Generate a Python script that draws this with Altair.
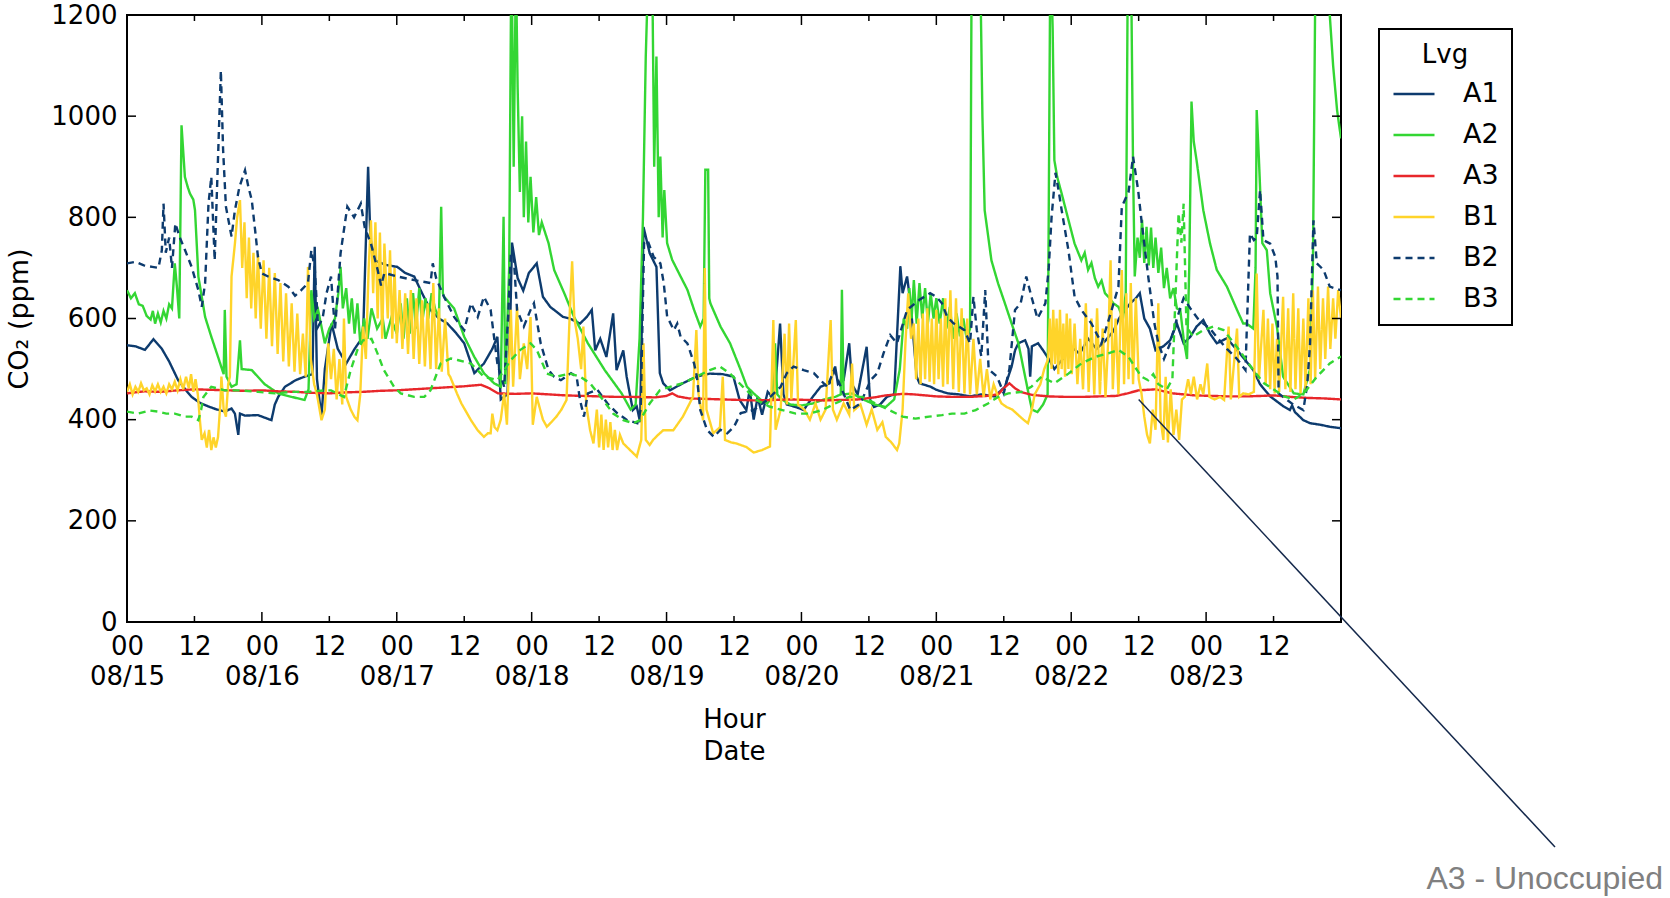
import altair as alt
import pandas as pd

START = pd.Timestamp("2015-08-15 00:00:00")

SERIES = ["A1", "A2", "A3", "B1", "B2", "B3"]
COLORS = ["#0d3b6e", "#33d633", "#e8272b", "#ffd42a", "#0d3b6e", "#33d633"]
DASHES = [[1, 0], [1, 0], [1, 0], [1, 0], [7, 5], [7, 5]]
Y_TICKS = [0, 200, 400, 600, 800, 1000, 1200]
X_TICK_HOURS = list(range(0, 216, 12))

# (hours since 08/15 00:00, CO2 ppm)
A1 = [(0, 547), (1.5, 545), (3.2, 538), (4.7, 559), (6.2, 540), (7.5, 515), (9.1, 478), (10.5, 458),
      (11.5, 445), (13, 433), (14.5, 426), (16, 420), (17.4, 416), (18.6, 422), (19.2, 412), (19.8, 370),
      (20.1, 412), (21, 408), (23.3, 409), (24.5, 404), (25.7, 399), (26.3, 430), (26.9, 445), (28.1, 465),
      (30, 478), (31.6, 485), (33, 490), (33.4, 742), (33.8, 480), (34.6, 406), (35.2, 500), (36.4, 590),
      (37.5, 540), (39, 511), (40.5, 540), (42, 564), (42.9, 900), (43.3, 760), (44, 715), (46, 706),
      (48.1, 702), (49.5, 690), (51.1, 683), (52.5, 650), (54, 617), (55.5, 600), (57, 590), (58.5, 572),
      (60, 551), (61.8, 492), (62.5, 500), (63.5, 511), (65, 540), (65.9, 564), (66.5, 440), (67.7, 450),
      (68.2, 600), (68.5, 750), (69.5, 680), (70.5, 655), (71.5, 690), (72.9, 709), (74, 643), (75.3, 623),
      (77.6, 603), (78.8, 600), (80.6, 590), (81.8, 603), (82.7, 617), (83.3, 537), (84.2, 560), (85.3, 524),
      (86.5, 610), (87.1, 498), (88.3, 537), (88.9, 485), (90, 419), (90.7, 426), (91.3, 395), (91.9, 781),
      (93, 729), (94.2, 702), (94.8, 492), (95.4, 472), (96.6, 458), (98.9, 472), (101.3, 485), (103.7, 491),
      (106, 490), (107.9, 485), (109, 439), (110.2, 419), (110.8, 460), (111.5, 400), (112.2, 445), (113, 410),
      (114, 455), (115.2, 440), (116.2, 590), (116.8, 450), (117.4, 430), (119, 425), (120.4, 419), (122, 445),
      (123.4, 465), (125, 472), (126, 505), (126.5, 470), (127.5, 478), (128.5, 551), (129, 470), (130, 450),
      (131.6, 544), (132.2, 440), (132.9, 425), (134, 430), (135.2, 445), (136.5, 450), (137.6, 703), (138, 650),
      (138.8, 683), (139.5, 620), (140, 551), (140.5, 485), (141, 472), (143, 465), (144, 459), (146, 452),
      (148, 450), (150, 446), (152, 450), (154.4, 446), (156.2, 465), (157.4, 505), (158, 537), (158.6, 551),
      (159.8, 557), (160.4, 540), (160.7, 485), (161, 545), (162.1, 551), (163, 537), (164, 520), (165, 500),
      (166.5, 520), (168, 545), (169.5, 530), (171, 560), (172.5, 540), (174, 555), (175.5, 575), (176.5, 600),
      (177.5, 615), (178.5, 630), (179.5, 640), (180.2, 650), (181, 600), (182, 580), (183, 537), (184.4, 545),
      (185.6, 557), (186.8, 590), (188, 551), (189.2, 564), (190.3, 584), (191.5, 597), (192.7, 570),
      (193.9, 551), (195.7, 561), (198, 531), (200.4, 498), (201.6, 470), (203.4, 446), (205.8, 426),
      (206.9, 419), (207.3, 428), (207.8, 415), (209.3, 399), (210.5, 393), (212.3, 390), (214, 386), (216, 383)]

A2 = [(0, 656), (0.7, 640), (1.4, 650), (2.1, 628), (2.8, 625), (3.5, 605), (4.2, 598), (4.6, 615), (5, 590),
      (5.5, 610), (6, 592), (6.5, 615), (7, 600), (7.5, 628), (8, 620), (8.5, 709), (8.9, 660), (9.3, 600),
      (9.7, 982), (10.3, 880), (10.8, 860), (11.2, 847), (11.8, 835), (12.1, 814), (12.7, 683), (13.9, 603),
      (15, 564), (16.2, 524), (17.2, 490), (17.4, 617), (17.7, 485), (18.6, 465), (19.5, 470), (20.1, 557),
      (20.4, 500), (22.2, 498), (24.5, 470), (26.9, 452), (29.3, 445), (31.6, 439), (32.3, 460), (32.8, 656),
      (33.3, 600), (34, 617), (35.2, 551), (36, 580), (37, 600), (37.6, 650), (38, 702), (38.4, 620), (39, 660),
      (39.5, 590), (40, 640), (40.5, 570), (41, 630), (41.5, 551), (42.2, 600), (42.8, 560), (43.5, 620),
      (44.5, 580), (45.5, 600), (46, 560), (47, 600), (48, 570), (48.7, 630), (49.2, 560), (49.8, 640),
      (50.3, 570), (50.9, 650), (51.4, 580), (52, 660), (52.5, 590), (53.1, 640), (53.6, 600), (54.2, 650),
      (54.8, 620), (55.5, 600), (55.9, 821), (56.2, 650), (56.4, 643), (58.2, 620), (60, 564), (61.8, 524),
      (63.5, 492), (65.3, 472), (66.5, 465), (67, 801), (67.3, 470), (68, 700), (68.4, 1350), (68.8, 900),
      (69.2, 1300), (69.5, 1058), (69.9, 850), (70.3, 1000), (70.6, 800), (71, 950), (71.4, 790), (71.8, 880),
      (72.3, 770), (72.8, 840), (73.3, 765), (73.8, 790), (75, 749), (76, 696), (77.8, 650), (79.5, 604),
      (82, 551), (85, 498), (88, 452), (89.6, 420), (90.5, 430), (91.2, 560), (91.8, 800), (92.3, 1118),
      (92.9, 1350), (93.4, 1350), (93.8, 900), (94.2, 1118), (94.6, 800), (94.9, 920), (95.3, 760), (95.6, 854),
      (96.1, 749), (97, 716), (98.5, 683), (99.7, 657), (100.9, 617), (102, 584), (102.6, 600), (102.9, 894),
      (103.4, 894), (103.6, 640), (103.8, 630), (105.6, 584), (107.3, 551), (109.2, 498), (110.3, 465),
      (111.5, 452), (112.7, 440), (113.9, 432), (114.8, 445), (115.3, 551), (115.7, 450), (116.5, 440),
      (118, 430), (120, 428), (122, 432), (124, 440), (126, 445), (127, 450), (127.2, 657), (127.5, 450),
      (129, 452), (131, 440), (133, 430), (135, 425), (136.5, 440), (137.5, 500), (138.2, 600), (138.8, 580),
      (139.2, 660), (139.6, 600), (140, 676), (140.5, 590), (141, 670), (141.5, 600), (142, 660), (142.5, 590),
      (143, 650), (143.5, 600), (144, 640), (144.6, 590), (145.2, 640), (145.8, 580), (146.4, 623), (147, 560),
      (147.6, 610), (148.2, 565), (148.8, 600), (149.4, 560), (150, 580), (150.3, 1350), (150.8, 1300),
      (151.2, 1350), (151.8, 1300), (152.2, 1000), (152.6, 814), (153.8, 715), (155, 669), (156.2, 630),
      (157.4, 590), (158.6, 551), (159.8, 485), (160.4, 452), (161, 420), (162, 415), (163, 430), (163.8, 450),
      (164.3, 1350), (164.7, 1172), (165, 913), (165.5, 880), (166.3, 847), (167.5, 795), (168.6, 748),
      (169.8, 715), (170.4, 730), (171, 696), (171.6, 710), (172.2, 680), (172.8, 663), (173.4, 675), (174, 650),
      (174.6, 643), (175.5, 630), (176.4, 623), (177.2, 600), (177.7, 650), (178.1, 1350), (178.6, 1350),
      (179, 900), (179.3, 683), (179.8, 760), (180.2, 720), (180.6, 795), (181, 710), (181.4, 781), (181.8, 705),
      (182.2, 780), (182.6, 700), (183, 760), (183.5, 690), (184, 740), (184.5, 660), (185, 700), (185.6, 640),
      (186.2, 660), (186.8, 620), (187.4, 617), (188, 560), (188.6, 520), (189, 700), (189.4, 1029), (189.8, 950),
      (190.3, 913), (191.5, 814), (192.7, 748), (193.9, 696), (195.7, 663), (197.5, 617), (198.6, 590),
      (199.2, 590), (200.4, 580), (200.8, 700), (201, 1012), (201.4, 914), (202, 749), (202.8, 735), (203.4, 650),
      (204.6, 584), (205.7, 485), (207.6, 452), (209.3, 450), (210.5, 500), (211, 700), (211.5, 1350),
      (212, 1300), (212.5, 1350), (213, 1250), (213.5, 1350), (214, 1200), (214.6, 1100), (215.3, 1012),
      (215.7, 980), (216, 956)]

A3 = [(0, 452), (3, 456), (6, 455), (9, 458), (12, 460), (15, 459), (18, 458), (21, 457), (24, 458), (27, 456),
      (30, 455), (33, 453), (36, 452), (39, 454), (42, 455), (45, 457), (48, 458), (51, 460), (54, 462),
      (57, 464), (60, 466), (63, 469), (64.5, 462), (66, 452), (69, 451), (72, 452), (75, 450), (78, 448),
      (81, 447), (84, 446), (87, 445), (90, 445), (94, 444), (96, 447), (97, 452), (98, 446), (100, 442),
      (103, 441), (106, 440), (109, 439), (112, 438), (115, 439), (118, 440), (121, 439), (124, 438),
      (127, 439), (130, 440), (133, 444), (135, 448), (138, 451), (140, 450), (142, 448), (144, 446),
      (147, 445), (150, 445), (153, 447), (155, 450), (156, 462), (157, 472), (158, 462), (159, 455),
      (161, 449), (164, 446), (167, 445), (170, 445), (173, 446), (176, 447), (178, 452), (180, 458),
      (183, 460), (184.5, 456), (186, 452), (188, 450), (190, 448), (193, 447), (196, 446), (199, 446),
      (202, 447), (204, 448), (207, 445), (210, 443), (213, 442), (216, 440)]

B1 = [(0, 455), (0.5, 470), (1, 450), (1.5, 465), (2, 455), (2.5, 472), (3, 458), (3.5, 462), (4, 450),
      (4.5, 468), (5, 456), (5.5, 470), (6, 455), (6.5, 465), (7, 452), (7.5, 470), (8, 460), (8.5, 475),
      (9, 458), (9.5, 480), (10, 460), (10.5, 485), (11, 462), (11.4, 490), (11.8, 455), (12.2, 480),
      (12.6, 450), (13, 395), (13.3, 360), (13.8, 373), (14.2, 345), (14.6, 380), (15, 340), (15.4, 365),
      (15.8, 345), (16.2, 366), (16.6, 430), (16.8, 485), (17.2, 420), (17.6, 406), (18, 470), (18.3, 485),
      (18.6, 683), (19.2, 748), (19.6, 800), (20.1, 834), (20.5, 700), (20.9, 790), (21.3, 640), (21.7, 760),
      (22.1, 620), (22.5, 730), (22.9, 600), (23.3, 727), (23.8, 580), (24.3, 715), (24.8, 560), (25.3, 700),
      (25.8, 545), (26.3, 690), (26.8, 530), (27.3, 670), (27.8, 515), (28.3, 650), (28.8, 505), (29.3, 630),
      (29.8, 495), (30.3, 610), (30.8, 490), (31.3, 570), (31.8, 485), (32.2, 702), (32.7, 520), (33.3, 470),
      (33.8, 450), (34.6, 399), (35.2, 420), (35.8, 551), (36.3, 480), (36.8, 540), (37.3, 440), (37.8, 520),
      (38.3, 430), (38.6, 600), (39, 445), (39.8, 420), (40.5, 405), (41, 399), (41.5, 450), (42, 584),
      (42.5, 520), (43, 700), (43.4, 794), (43.8, 650), (44.2, 790), (44.6, 600), (45, 770), (45.4, 560),
      (45.8, 748), (46.4, 600), (46.8, 735), (47.2, 560), (47.6, 700), (48, 551), (48.5, 656), (49, 540),
      (49.5, 650), (50, 530), (50.5, 656), (51, 520), (51.5, 640), (52, 510), (52.5, 636), (53, 505),
      (53.5, 630), (54, 500), (54.5, 670), (55, 500), (55.5, 620), (56, 495), (56.6, 600), (57.2, 490),
      (57.5, 485), (58.7, 452), (59.5, 432), (61.2, 399), (62.4, 379), (63.5, 366), (64.2, 373), (64.7, 373),
      (65, 412), (65.4, 385), (65.9, 379), (66.5, 400), (67.1, 452), (67.6, 390), (68.3, 617), (68.7, 465),
      (69.4, 623), (69.9, 480), (70.6, 551), (71.2, 500), (71.8, 603), (72.2, 390), (72.9, 445), (74, 400),
      (74.7, 386), (75.5, 395), (76.4, 406), (77.3, 420), (78.2, 439), (78.8, 617), (79.2, 713), (79.6, 600),
      (80.2, 560), (80.8, 500), (81.2, 584), (81.7, 430), (82.4, 379), (83, 353), (83.6, 420), (84, 345),
      (84.4, 410), (84.8, 340), (85.2, 400), (85.6, 345), (86, 395), (86.4, 340), (86.8, 380), (87.2, 340),
      (87.7, 370), (88.3, 353), (89.5, 340), (90.7, 327), (91.5, 360), (91.9, 551), (92.3, 360), (93, 350),
      (93.6, 360), (94.5, 370), (95.4, 379), (97.2, 379), (98.9, 406), (100.7, 445), (101.3, 577),
      (101.7, 450), (102.5, 399), (102.8, 700), (103.1, 420), (104.3, 373), (105.5, 385), (106, 485),
      (106.4, 360), (107.5, 355), (108.4, 353), (110.2, 346), (111.5, 335), (113, 340), (114.4, 347),
      (115, 597), (115.4, 380), (116.3, 420), (117, 570), (117.4, 430), (117.8, 590), (118.2, 440), (119, 597),
      (119.4, 430), (120.5, 420), (121.5, 400), (122.5, 432), (123.4, 400), (124.3, 420), (125.2, 597),
      (125.6, 420), (126.3, 400), (127.5, 432), (128.5, 410), (129, 511), (129.4, 419), (130.5, 430),
      (131.6, 390), (132.5, 420), (133.5, 380), (134.4, 395), (135, 366), (136, 355), (137, 340), (137.4, 353),
      (138, 420), (138.5, 551), (139, 650), (139.5, 560), (140, 590), (140.4, 480), (140.8, 600), (141.2, 470),
      (141.6, 610), (142, 480), (142.4, 620), (142.8, 475), (143.2, 600), (143.6, 470), (144, 617), (144.4, 480),
      (144.8, 600), (145.2, 465), (145.6, 640), (146, 470), (146.5, 656), (147, 460), (147.5, 640), (148, 455),
      (148.5, 620), (149, 452), (149.5, 600), (150, 450), (150.6, 560), (151.2, 450), (151.8, 520),
      (152.4, 445), (153, 500), (153.6, 440), (154.2, 470), (155, 445), (155.6, 432), (156.5, 425),
      (157.5, 420), (158.5, 410), (159.5, 400), (160.3, 393), (161, 420), (161.5, 450), (162.5, 470),
      (163.2, 500), (163.9, 520), (164.2, 600), (164.5, 500), (164.8, 617), (165.1, 510), (165.4, 600),
      (165.7, 490), (166, 617), (166.3, 500), (166.6, 590), (166.9, 485), (167.2, 610), (167.5, 500),
      (167.8, 600), (168.1, 490), (168.6, 590), (169.1, 470), (169.6, 560), (170.1, 460), (170.6, 630),
      (171.1, 455), (171.6, 600), (172.1, 450), (172.6, 620), (173.1, 450), (173.6, 580), (174.1, 445),
      (174.6, 560), (175, 715), (175.4, 460), (175.9, 600), (176.4, 450), (177, 696), (177.4, 470),
      (177.8, 650), (178.2, 480), (178.6, 670), (179, 470), (179.5, 640), (180, 480), (180.5, 452), (181, 406),
      (181.5, 370), (182, 353), (182.5, 420), (183, 380), (183.5, 630), (183.9, 400), (184.4, 360),
      (184.8, 485), (185.2, 355), (185.7, 460), (186.2, 370), (186.7, 420), (187.2, 360), (187.7, 440),
      (188.2, 445), (188.8, 480), (189.3, 450), (189.8, 485), (190.4, 440), (191, 470), (191.5, 450),
      (192.2, 511), (192.6, 445), (193.5, 440), (194.5, 445), (195.2, 439), (196, 584), (196.4, 440),
      (197.5, 580), (197.9, 445), (198.6, 452), (199.6, 450), (200.5, 455), (201, 689), (201.4, 480),
      (202.2, 617), (202.6, 470), (203, 600), (203.4, 460), (203.8, 590), (204.2, 452), (204.6, 560),
      (205, 455), (205.7, 643), (206.1, 460), (206.6, 620), (207, 455), (207.5, 650), (207.9, 460),
      (208.4, 620), (208.8, 452), (209.3, 600), (209.7, 460), (210.2, 640), (210.6, 470), (211, 656),
      (211.4, 480), (211.9, 663), (212.3, 500), (212.8, 640), (213.2, 520), (213.7, 663), (214.1, 540),
      (214.6, 640), (215, 560), (215.5, 656), (216, 600)]

B2 = [(0, 709), (1.5, 712), (3, 705), (4.5, 702), (5.6, 700), (6.2, 735), (6.5, 827), (6.9, 730), (7.5, 760),
      (8, 700), (8.6, 788), (9.4, 760), (10.3, 736), (11.5, 702), (12.7, 656), (13.3, 623), (13.9, 670),
      (14.5, 827), (15, 880), (15.6, 715), (16.2, 919), (16.7, 1090), (17.1, 933), (17.6, 821), (18.6, 762),
      (19.2, 814), (20, 860), (21, 893), (21.6, 860), (22.2, 834), (22.8, 774), (23.3, 722), (24, 689),
      (25.1, 683), (26.9, 676), (28.7, 663), (29.9, 645), (31, 656), (32.2, 670), (32.8, 735), (33.4, 700),
      (34, 584), (34.8, 600), (35.5, 650), (36.3, 683), (37, 577), (38, 729), (39.2, 821), (40.4, 800),
      (41.6, 827), (42.3, 780), (43.4, 748), (44.6, 696), (45.2, 665), (45.8, 690), (48.1, 683), (51.1, 676),
      (54, 670), (54.4, 709), (55, 680), (56.4, 643), (58.2, 603), (60, 577), (61.2, 630), (62.4, 603),
      (63.5, 643), (64.7, 617), (65.9, 511), (67.1, 465), (67.8, 600), (68.3, 729), (68.8, 722), (69.4, 617),
      (70.6, 584), (71.8, 617), (72.4, 630), (73.6, 551), (75, 498), (76, 485), (77.2, 478), (79, 492),
      (80, 485), (80.6, 439), (81.3, 406), (82, 452), (83.7, 459), (85.5, 432), (87.2, 413), (89, 399),
      (90.8, 393), (91.4, 420), (92, 749), (92.6, 755), (93.7, 722), (94.9, 709), (95.5, 670), (96.1, 604),
      (97.3, 577), (97.9, 590), (98.5, 564), (99.7, 551), (100.9, 511), (101.4, 485), (102, 419), (103.2, 380),
      (104.4, 366), (105.6, 380), (106.8, 373), (108, 386), (109.2, 413), (111.5, 419), (113.9, 439),
      (116.3, 465), (117.4, 492), (118.6, 505), (120.4, 498), (122.2, 492), (123.4, 478), (124.6, 465),
      (125.8, 498), (127, 465), (128.7, 419), (130.5, 432), (132.3, 478), (133.5, 492), (134.6, 531),
      (135.8, 567), (137, 551), (138.8, 617), (141, 637), (142.9, 650), (144, 643), (145, 630), (145.9, 604),
      (147, 591), (149, 577), (150, 551), (150.6, 643), (151.2, 577), (152, 525), (152.7, 656), (153.3, 500),
      (154.8, 485), (156, 452), (157, 500), (158, 617), (159, 630), (160, 683), (161, 640), (162, 600),
      (163.4, 630), (164, 700), (164.5, 800), (165.2, 888), (165.8, 850), (166.3, 814), (167.5, 735),
      (168.6, 643), (169.8, 617), (171.6, 590), (173.4, 551), (175.2, 617), (176.4, 663), (177, 821),
      (178.2, 850), (179, 920), (179.9, 854), (180.5, 794), (181.7, 683), (182.8, 590), (183.5, 551),
      (184.5, 520), (185.6, 551), (186.8, 600), (188, 640), (189.2, 620), (190.5, 600), (191.5, 590),
      (192.7, 580), (193.9, 563), (195.7, 540), (197.5, 520), (199, 498), (199.8, 768), (200.5, 755),
      (201, 760), (201.6, 854), (202.2, 755), (203.4, 748), (204.3, 722), (204.7, 683), (204.9, 452),
      (205.7, 445), (207.5, 430), (209.3, 419), (210, 470), (210.5, 551), (211.1, 794), (211.7, 709),
      (212.9, 696), (214, 663), (216, 656)]

B3 = [(0, 416), (2, 412), (4, 418), (5.6, 416), (7, 412), (8.5, 412), (10.3, 406), (11.5, 406), (12.7, 399),
      (13.2, 420), (13.6, 445), (15, 465), (17.4, 458), (19.8, 458), (23.3, 455), (26.3, 452), (29.3, 455),
      (32.2, 455), (35.2, 458), (36.3, 458), (38.6, 445), (39.8, 498), (41, 538), (42, 557), (43.5, 560),
      (44.6, 530), (45.7, 498), (47.5, 465), (48.7, 452), (51.1, 445), (52.9, 445), (54, 458), (55.8, 511),
      (57.6, 521), (58.8, 518), (61.2, 511), (63.5, 485), (65.9, 478), (68.3, 518), (70, 538), (71.8, 551),
      (72.9, 538), (74.7, 491), (76.4, 485), (78.8, 491), (80.6, 485), (82.4, 472), (84.7, 439), (86.5, 412),
      (88.3, 399), (90.1, 393), (91.3, 399), (93, 432), (94.8, 458), (96.6, 465), (98.9, 472), (101.3, 485),
      (103.7, 498), (105.5, 505), (107.3, 491), (109.6, 465), (112, 439), (114.3, 426), (116.6, 419),
      (119, 412), (121.4, 412), (123.7, 419), (126, 432), (128.5, 445), (130.8, 445), (133.2, 432),
      (135.6, 419), (138, 406), (140.3, 402), (142.7, 406), (145, 409), (146.8, 412), (149, 412), (151, 419),
      (153.2, 432), (155, 445), (156.8, 452), (159.2, 455), (160.9, 465), (162.7, 485), (165, 472),
      (167.5, 491), (169.8, 511), (172.2, 524), (174.6, 531), (176.4, 538), (178.2, 524), (179.3, 505),
      (180.5, 485), (181.7, 478), (182.6, 490), (183.5, 470), (185, 460), (186, 480), (187.1, 808),
      (187.6, 750), (188, 827), (188.5, 584), (189.7, 564), (191.5, 577), (193.3, 584), (195.1, 577),
      (197, 551), (198.7, 525), (200.4, 498), (202.3, 472), (204.1, 459), (205.9, 446), (207.6, 440),
      (209.4, 452), (211.7, 485), (214, 511), (216, 525)]

# annotation anchor on the A3 trace (hour, ppm) and its label
NOTE_POINT = [(180, 440)]
NOTE_TEXT = "A3 - Unoccupied"

W, H = 1214, 607
FONT = "DejaVu Sans"


def frame(name, pairs):
    return pd.DataFrame({
        "time": [START + pd.Timedelta(hours=h) for h, _ in pairs],
        "ppm": [v for _, v in pairs],
        "Lvg": name,
    })


lines_df = pd.concat(
    [frame(n, p) for n, p in zip(SERIES, [A1, A2, A3, B1, B2, B3])], ignore_index=True
)

x_scale = alt.Scale(
    domain=[alt.DateTime(year=2015, month=8, date=15), alt.DateTime(year=2015, month=8, date=24)]
)
y_scale = alt.Scale(domain=[0, 1200], nice=False)

tick_values = [
    alt.DateTime(year=2015, month=8, date=15 + h // 24, hours=h % 24) for h in X_TICK_HOURS
]

x_axis = alt.Axis(
    values=tick_values,
    labelExpr="hours(datum.value) == 0 ? [timeFormat(datum.value, '%H'), timeFormat(datum.value, '%m/%d')] : timeFormat(datum.value, '%H')",
    ticks=False, domain=False, grid=False,
    labelFontSize=26, labelLineHeight=30, labelPadding=11, labelAngle=0,
    labelFlush=False, labelOverlap=False, labelColor="black",
    title=["Hour", "Date"], titleFontSize=26, titleFontWeight="normal", titleLineHeight=32,
    titleColor="black", titleBaseline="top", titleY=84, titleX=W / 2,
)
y_axis = alt.Axis(
    values=Y_TICKS, format="d", ticks=False, domain=False, grid=False,
    labelFontSize=26, labelPadding=10, labelColor="black",
    title="CO₂ (ppm)", titleFontSize=27, titleFontWeight="normal", titleColor="black",
    titleAngle=270, titleAlign="center", titleBaseline="middle", titleX=-108, titleY=H / 2,
)

X_ENC = alt.X("time:T", scale=x_scale, axis=x_axis)
Y_ENC = alt.Y("ppm:Q", scale=y_scale, axis=y_axis)

legend = alt.Legend(
    title="Lvg", orient="none", legendX=1252, legendY=14,
    strokeColor="black", fillColor="white", padding=13,
    symbolType="stroke", symbolSize=1681, symbolStrokeWidth=2.5,
    labelFontSize=27, titleFontSize=26, titleFontWeight="normal",
    titleAnchor="middle", labelOffset=27, rowPadding=6, titlePadding=4,
)

lines = alt.Chart(lines_df).mark_line(clip=True, strokeWidth=2.4).encode(
    x=X_ENC,
    y=Y_ENC,
    color=alt.Color("Lvg:N", scale=alt.Scale(domain=SERIES, range=COLORS), legend=legend),
    strokeDash=alt.StrokeDash("Lvg:N", scale=alt.Scale(domain=SERIES, range=DASHES), legend=legend),
)

major_df = pd.DataFrame({"time": [START + pd.Timedelta(hours=h) for h in X_TICK_HOURS if h % 24 == 0]})
minor_df = pd.DataFrame({"time": [START + pd.Timedelta(hours=h) for h in X_TICK_HOURS if h % 24 == 12]})
ytick_df = pd.DataFrame({"ppm": Y_TICKS})


def x_ticks(df, length):
    base = alt.Chart(df).mark_rule(color="black", strokeWidth=1.5)
    bottom = base.encode(x=X_ENC, y=alt.value(H), y2=alt.value(H - length))
    top = base.encode(x=X_ENC, y=alt.value(0), y2=alt.value(length))
    return [bottom, top]


ybase = alt.Chart(ytick_df).mark_rule(color="black", strokeWidth=1.5)
y_left = ybase.encode(y=Y_ENC, x=alt.value(0), x2=alt.value(9))
y_right = ybase.encode(y=Y_ENC, x=alt.value(W), x2=alt.value(W - 9))

note_df = pd.DataFrame({
    "time": [START + pd.Timedelta(hours=h) for h, _ in NOTE_POINT],
    "ppm": [v for _, v in NOTE_POINT],
    "label": [NOTE_TEXT],
})
note_line = alt.Chart(note_df).mark_rule(color="#14284b", strokeWidth=1.5).encode(
    x=X_ENC, y=Y_ENC, x2=alt.value(1428), y2=alt.value(832),
)
note_label = alt.Chart(note_df).mark_text(
    align="right", baseline="alphabetic", font="Liberation Sans", fontSize=32, color="#808080"
).encode(x=alt.value(1536), y=alt.value(874), text="label:N")

chart = alt.layer(
    lines, *x_ticks(major_df, 10), *x_ticks(minor_df, 6), y_left, y_right, note_line, note_label
).properties(
    width=W, height=H,
    autosize=alt.AutoSizeParams(type="none"),
    padding={"left": 127, "top": 15, "right": 329, "bottom": 276},
).configure(
    font=FONT, background="white"
).configure_view(
    stroke="black", strokeWidth=2
).configure_legend(
    strokeWidth=2, labelColor="black", titleColor="black"
)

chart.save("out.html", embed_options={"renderer": "svg", "actions": False})
